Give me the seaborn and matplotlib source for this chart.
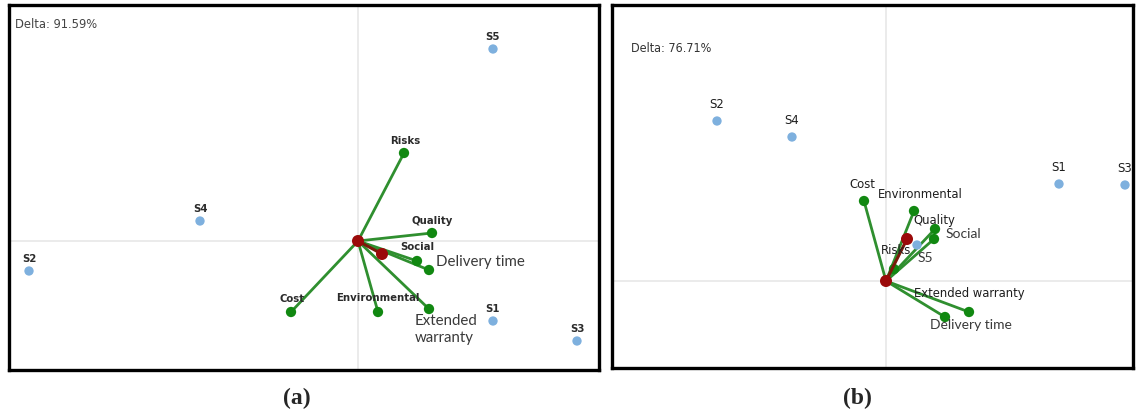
import matplotlib
matplotlib.use("Agg")
import matplotlib.pyplot as plt
import seaborn as sns
import pandas as pd
from matplotlib import font_manager

sns.set_theme(style="white")
plt.rcParams["font.family"] = ["DejaVu Sans"]

# ---- GAIA plane (a) ----
criteria_a = ["Risks", "Quality", "Social", "Delivery time", "Extended warranty",
              "Environmental", "Cost"]
crit_a_x = [0.23, 0.37, 0.295, 0.355, 0.355, 0.10, -0.335]
crit_a_y = [0.44, 0.04, -0.10, -0.145, -0.34, -0.355, -0.355]
actions_a = ["S1", "S2", "S3", "S4", "S5"]
act_a_x = [0.675, -1.645, 1.095, -0.79, 0.675]
act_a_y = [-0.40, -0.15, -0.50, 0.10, 0.96]
pi_a = (0.12, -0.065)
delta_a = "Delta: 91.59%"

# ---- GAIA plane (b) ----
criteria_b = ["Cost", "Environmental", "Quality", "Social", "Risks",
              "Extended warranty", "Delivery time"]
crit_b_x = [-0.11, 0.14, 0.245, 0.24, 0.04, 0.415, 0.295]
crit_b_y = [0.40, 0.35, 0.26, 0.21, 0.06, -0.155, -0.18]
actions_b = ["S1", "S2", "S3", "S4", "S5"]
act_b_x = [0.865, -0.845, 1.195, -0.47, 0.155]
act_b_y = [0.485, 0.80, 0.48, 0.72, 0.18]
pi_b = (0.105, 0.21)
delta_b = "Delta: 76.71%"

GREEN_LINE = "#2f8f2f"
GREEN_DOT = "#118811"
BLUE = "#7eb0de"
RED = "#9b0a0a"
AXIS_GRAY = "#e8e8e8"

# narrow face for the second plane, if one is available
names = {f.name for f in font_manager.fontManager.ttflist}
if "Liberation Sans Narrow" in names:
    narrow_kw = dict(family=["Liberation Sans Narrow", "DejaVu Sans"])
elif "DejaVu Sans Condensed" in names:
    narrow_kw = dict(family=["DejaVu Sans Condensed"])
else:
    narrow_kw = dict(family=["DejaVu Sans"], fontstretch="condensed")

fig = plt.figure(figsize=(11.39, 4.19), dpi=100)
W, H = 1139, 419


def box(x0, y0, x1, y1):
    return [x0 / W, 1 - y1 / H, (x1 - x0) / W, (y1 - y0) / H]


def draw_plane(ax, cx, cy, cnames, ax_x, ax_y, anames, pi, xlim, ylim):
    ax.set_xlim(*xlim)
    ax.set_ylim(*ylim)
    ax.axhline(0, color=AXIS_GRAY, lw=1.2, zorder=0)
    ax.axvline(0, color=AXIS_GRAY, lw=1.2, zorder=0)
    for x, y in zip(cx, cy):
        ax.plot([0, x], [0, y], color=GREEN_LINE, lw=2.0, zorder=2,
                solid_capstyle="round")
    crit = pd.DataFrame({"x": cx, "y": cy, "name": cnames})
    sns.scatterplot(data=crit, x="x", y="y", ax=ax, color=GREEN_DOT, s=55,
                    edgecolor="none", zorder=3)
    act = pd.DataFrame({"x": ax_x, "y": ax_y, "name": anames})
    sns.scatterplot(data=act, x="x", y="y", ax=ax, color=BLUE, s=45,
                    edgecolor="none", zorder=3)
    ax.plot([0, pi[0]], [0, pi[1]], color="#7a1a0a", lw=2.2, zorder=4)
    sns.scatterplot(x=[0, pi[0]], y=[0, pi[1]], ax=ax, color=RED, s=75,
                    edgecolor="none", zorder=5)
    ax.set_xlabel("")
    ax.set_ylabel("")
    ax.set_xticks([])
    ax.set_yticks([])
    for s in ax.spines.values():
        s.set_visible(True)
        s.set_color("black")
        s.set_linewidth(2.4)


def label(ax, x, y, text, dx, dy, ha="center", va="center", **kw):
    ax.annotate(text, (x, y), xytext=(dx, -dy), textcoords="offset pixels",
                ha=ha, va=va, zorder=6, **kw)


# panel (a)
ax1 = fig.add_axes(box(9, 5, 599, 370))
draw_plane(ax1, crit_a_x, crit_a_y, criteria_a, act_a_x, act_a_y, actions_a,
           pi_a, (-1.745, 1.205), (-0.645, 1.18))

small_a = dict(fontsize=7.3, fontweight="bold", color="#2b2b2b")
big_a = dict(fontsize=10.8, color="#3a3a3a", family=["Lato", "DejaVu Sans"])
pos_a = {
    "Risks": (1, -12, "center", "center", small_a),
    "Quality": (0, -12, "center", "center", small_a),
    "Social": (0, -14, "center", "center", small_a),
    "Delivery time": (7, -8, "left", "center", big_a),
    "Extended warranty": (-14, 5, "left", "top", big_a),
    "Environmental": (0, -14, "center", "center", small_a),
    "Cost": (1, -13, "center", "center", small_a),
}
for n, x, y in zip(criteria_a, crit_a_x, crit_a_y):
    dx, dy, ha, va, st = pos_a[n]
    txt = "Extended\nwarranty" if n == "Extended warranty" else n
    label(ax1, x, y, txt, dx, dy, ha, va, linespacing=1.3, **st)
for n, x, y in zip(actions_a, act_a_x, act_a_y):
    label(ax1, x, y, n, 0, -12, **small_a)
ax1.text(6 / 590, 1 - 19 / 365, delta_a, transform=ax1.transAxes,
         fontsize=8.3, color="#444444", ha="left", va="center")

# panel (b)
ax2 = fig.add_axes(box(612, 5, 1133, 368))
draw_plane(ax2, crit_b_x, crit_b_y, criteria_b, act_b_x, act_b_y, actions_b,
           pi_b, (-1.37, 1.235), (-0.435, 1.38))

small_b = dict(fontsize=9.3, color="#1e1e1e", **narrow_kw)
big_b = dict(fontsize=10, color="#3a3a3a", family=["Lato", "DejaVu Sans"])
pos_b = {
    "Cost": (-2, -17, "center", "center", small_b),
    "Environmental": (-36, -17, "left", "center", small_b),
    "Quality": (-1, -9, "center", "center", small_b),
    "Social": (12, -5, "left", "center", big_b),
    "Risks": (2, -19, "center", "center", small_b),
    "Extended warranty": (0, -19, "center", "center", small_b),
    "Delivery time": (-15, 8, "left", "center", big_b),
}
for n, x, y in zip(criteria_b, crit_b_x, crit_b_y):
    dx, dy, ha, va, st = pos_b[n]
    label(ax2, x, y, n, dx, dy, ha, va, **st)
for n, x, y in zip(actions_b, act_b_x, act_b_y):
    if n == "S5":
        label(ax2, x, y, n, 1, 13, "left", "center", **big_b)
    else:
        label(ax2, x, y, n, 0, -17, **small_b)
ax2.text(19 / 521, 1 - 43 / 363, delta_b, transform=ax2.transAxes,
         fontsize=9, color="#333333", ha="left", va="center", **narrow_kw)

# sub-figure captions
cap = dict(fontsize=17, fontweight="bold",
           family=["Liberation Serif", "DejaVu Serif"],
           ha="center", va="center")
fig.text(297 / W, 1 - 398 / H, "(a)", **cap)
fig.text(857 / W, 1 - 398 / H, "(b)", **cap)

fig.savefig("out.png", dpi=100, facecolor="white")
